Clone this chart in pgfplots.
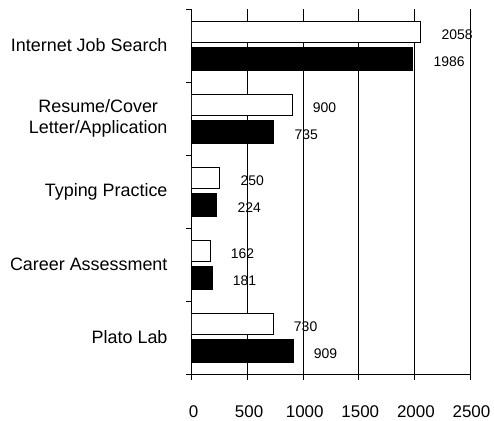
\documentclass[border=0pt]{standalone}
\usepackage{fontspec}
\setmainfont{Liberation Sans}
\usepackage{pgfplots}
\pgfplotsset{compat=1.18}
\begin{document}
\begin{tikzpicture}
\begin{axis}[
  scale only axis, width=278bp, height=365bp,
  xbar, xmin=0, xmax=2500, ymin=-0.5, ymax=4.5,
  axis x line*=bottom, axis y line*=left,
  axis line style={line width=1pt, -},
  xtick={0,500,1000,1500,2000,2500},
  xmajorgrids, grid style={black, line width=1pt},
  major tick length=6bp, tick align=outside,
  tick style={black, line width=1pt},
  /pgf/number format/assume math mode=true,
  /pgf/number format/1000 sep={},
  xticklabel style={font=\fontsize{17}{20}\selectfont, yshift=-22bp, xshift=1.5bp},
  ytick={-0.5,0.5,1.5,2.5,3.5,4.5}, yticklabels={},
  extra y ticks={0,1,2,3,4},
  extra y tick labels={Plato Lab, Career Assessment, Typing Practice, {Resume/Cover\\Letter/Application}, Internet Job Search},
  extra y tick style={tick style={draw=none}, yticklabel style={align=center, font=\fontsize{18}{21}\selectfont, xshift=-15bp}},
  nodes near coords,
  every node near coord/.append style={font=\fontsize{14}{16}\selectfont, anchor=west, xshift=17bp, yshift=-3bp, black, /pgf/number format/1000 sep={}},
]
\addplot[draw=black, fill=white, line width=1pt, bar width=0.3, bar shift=0.185]
  coordinates {(730,0) (162,1) (250,2) (900,3) (2058,4)};
\addplot[draw=black, fill=black, line width=1pt, bar width=0.31, bar shift=-0.185]
  coordinates {(909,0) (181,1) (224,2) (735,3) (1986,4)};
\end{axis}
\pgfresetboundingbox
\useasboundingbox ([xshift=-192bp,yshift=-47bp]current axis.south west) rectangle ([xshift=302bp,yshift=374bp]current axis.south west);
\end{tikzpicture}
\end{document}
